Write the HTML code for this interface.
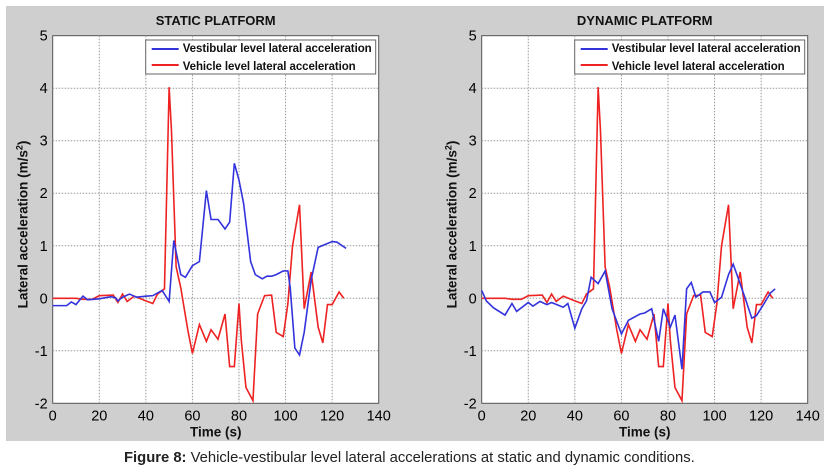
<!DOCTYPE html>
<html><head><meta charset="utf-8"><style>
body{margin:0;width:830px;height:471px;background:#fff;overflow:hidden;font-family:"Liberation Sans",Arial,sans-serif}
#bg{position:absolute;left:6px;top:6px;width:818px;height:435px;background:#cfcfcf}
#cap{position:absolute;left:124px;top:450px;font-size:14.8px;color:#222;white-space:nowrap}
svg{position:absolute;left:0;top:0}
</style></head><body>
<div id="bg"></div>
<svg id="chart" width="830" height="471"></svg>
<div id="cap"><b>Figure 8:</b> Vehicle-vestibular level lateral accelerations at static and dynamic conditions.</div>
<script>
const xTicks=[0,20,40,60,80,100,120,140];
const yTicks=[5,4,3,2,1,0,-1,-2];
const staticBlueT=[0,6,8,10,13,15,20,25,27,28,30,33,36,40,43,47,50,52,55,57,60,63,66,68,71,74,76,78,80,82,85,87,90,92,94,96,99,101,102,104,106,108,111,114,120,122,126];
const staticBlueV=[-0.14,-0.14,-0.07,-0.12,0.04,-0.03,-0.01,0.03,0.01,-0.05,0.02,0.08,0.02,0.04,0.05,0.15,-0.06,1.1,0.45,0.4,0.62,0.7,2.05,1.5,1.5,1.32,1.45,2.57,2.25,1.8,0.7,0.45,0.37,0.42,0.42,0.45,0.52,0.52,0.2,-0.95,-1.08,-0.65,0.35,0.97,1.08,1.07,0.95];
const redT=[0,10,13,17,20,26,28,30,32,35,40,43,45,48,50,51,53,55,58,60,63,66,68,71,74,76,78,80,81,83,86,88,91,94,96,99,101,103,106,108,111,114,116,118,120,123,125];
const redV=[0,0,-0.02,-0.02,0.05,0.06,-0.08,0.08,-0.06,0.04,-0.05,-0.1,0.08,0.18,4.02,3.2,0.6,0.2,-0.6,-1.05,-0.5,-0.82,-0.6,-0.78,-0.3,-1.3,-1.3,-0.1,-0.8,-1.7,-1.95,-0.3,0.05,0.06,-0.65,-0.73,-0.1,1.0,1.78,-0.2,0.5,-0.55,-0.85,-0.12,-0.12,0.12,0];
const dynBlueT=[0,2,5,10,13,15,20,22,25,28,30,35,37,40,43,45,47,50,53,56,60,63,68,70,73,76,78,81,83,86,88,90,92,95,98,100,103,106,108,110,113,116,118,121,124,126];
const dynBlueV=[0.15,-0.05,-0.18,-0.32,-0.1,-0.25,-0.08,-0.15,-0.06,-0.12,-0.08,-0.17,-0.1,-0.57,-0.2,-0.05,0.4,0.28,0.52,-0.2,-0.68,-0.42,-0.3,-0.28,-0.2,-0.82,-0.2,-0.55,-0.32,-1.35,0.18,0.3,0.02,0.12,0.12,-0.08,0.02,0.45,0.65,0.4,0.02,-0.38,-0.33,-0.12,0.1,0.18];
const NS="http://www.w3.org/2000/svg";
const svg=document.getElementById('chart');
function mk(t,a,p){const e=document.createElementNS(NS,t);for(const k in a)e.setAttribute(k,a[k]);(p||svg).appendChild(e);return e;}
function panel(x0,title,blueT,blueV,key){
  const x1=x0+326,yT=35.7,yB=403.3;
  const sx=v=>x0+(v-0)/140*(x1-x0), sy=v=>yB-(v+2)/7*(yB-yT);
  const g=mk('g',{});
  
  
  const r=mk('rect',{x:x0,y:yT,width:x1-x0,height:yB-yT,fill:'#fff',stroke:'#555','stroke-width':1},g);
  
  
  xTicks.forEach(t=>{const x=sx(t);
    if(t>0&&t<140){const l=mk('line',{x1:x,x2:x,y1:yT,y2:yB,stroke:'#999','stroke-dasharray':'1.5,1.5'},g);
      
      }
    const tx=mk('text',{x:x,y:yB+17,'text-anchor':'middle','font-size':14.5,fill:'#000'},g);tx.textContent=t;
    
    });
  yTicks.forEach(t=>{const y=sy(t);
    if(t>-2&&t<5){const l=mk('line',{x1:x0,x2:x1,y1:y,y2:y,stroke:'#999','stroke-dasharray':'1.5,1.5'},g);
      
      }
    const tx=mk('text',{x:x0-5,y:y+5,'text-anchor':'end','font-size':14.5,fill:'#000'},g);tx.textContent=t;
    
    });
  const tt=mk('text',{x:(x0+x1)/2,y:25,'text-anchor':'middle','font-size':13,'font-weight':'bold',fill:'#111'},g);tt.textContent=title;
  
  
  const xl=mk('text',{x:(x0+x1)/2,y:yB+33,'text-anchor':'middle','font-size':13.5,'font-weight':'bold',fill:'#111'},g);xl.textContent='Time (s)';
  
  
  const yl=mk('text',{transform:`translate(${x0-25},${(yT+yB)/2+5}) rotate(-90)`,'text-anchor':'middle','font-size':13.5,'font-weight':'bold',fill:'#111'},g);
  yl.innerHTML='Lateral acceleration (m/s<tspan dy="-5" font-size="9">2</tspan><tspan dy="5">)</tspan>';
  
  
  const red=mk('polyline',{points:redT.map((t,i)=>sx(t)+','+sy(redV[i])).join(' '),fill:'none',stroke:'#ee2222','stroke-width':1.6},g);
  
  
  const blue=mk('polyline',{points:blueT.map((t,i)=>sx(t)+','+sy(blueV[i])).join(' '),fill:'none',stroke:'#3333dd','stroke-width':1.6},g);
  
  
  const lx=x1-233;
  const lg=mk('g',{},g);
  
  
  mk('rect',{x:lx,y:40,width:230,height:34,fill:'#fff',stroke:'#666'},lg);
  mk('line',{x1:lx+6,x2:lx+33,y1:49,y2:49,stroke:'#3333dd','stroke-width':2},lg);
  mk('line',{x1:lx+6,x2:lx+33,y1:65,y2:65,stroke:'#ee2222','stroke-width':2},lg);
  const a=mk('text',{x:lx+37,y:52,'font-size':11.5,'font-weight':'bold',fill:'#111',textLength:189},lg);a.textContent='Vestibular level lateral acceleration';
  
  
  const b=mk('text',{x:lx+37,y:70,'font-size':11.5,'font-weight':'bold',fill:'#111',textLength:173},lg);b.textContent='Vehicle level lateral acceleration';
  
  
}
panel(52.7,'STATIC PLATFORM',staticBlueT,staticBlueV,'static');
panel(481.7,'DYNAMIC PLATFORM',dynBlueT,dynBlueV,'dynamic');
</script>
</body></html>
